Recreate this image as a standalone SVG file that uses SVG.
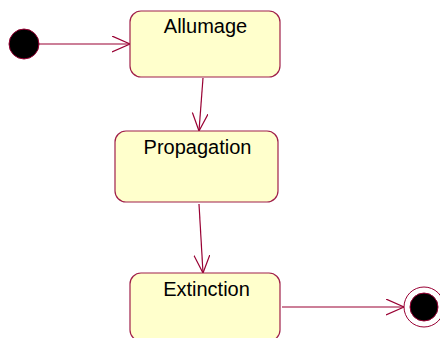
<svg xmlns="http://www.w3.org/2000/svg" width="440" height="338" viewBox="0 0 440 338">
<defs>
<style>
.st{fill:#ffffcc;stroke:#a0204a;stroke-width:1.2}
.lbl{font-family:"Liberation Sans",Arial,sans-serif;font-size:20px;fill:#000;text-anchor:middle}
.cn{stroke:#990033;stroke-width:1.2;fill:none}
</style>
<marker id="ah" markerWidth="22" markerHeight="20" refX="18" refY="8" orient="auto" markerUnits="userSpaceOnUse">
<path d="M0,0 L18,8 L0,16" fill="none" stroke="#990033" stroke-width="1.2"/>
</marker>
</defs>
<rect width="440" height="338" fill="#fff"/>
<g id="connectors">
<line class="cn" x1="39" y1="44" x2="130" y2="44" marker-end="url(#ah)"/>
<line class="cn" x1="203" y1="78" x2="199" y2="131" marker-end="url(#ah)"/>
<line class="cn" x1="199" y1="204" x2="203" y2="273" marker-end="url(#ah)"/>
<line class="cn" x1="282" y1="307" x2="404" y2="307" marker-end="url(#ah)"/>
</g>
<g id="start">
<circle cx="24" cy="44" r="15" fill="#000" stroke="#990033" stroke-width="1"/>
</g>
<g id="allumage">
<rect class="st" x="130" y="11" width="150" height="66" rx="11"/>
<text class="lbl" x="205.5" y="33">Allumage</text>
</g>
<g id="propagation">
<rect class="st" x="115" y="131" width="163" height="71" rx="11"/>
<text class="lbl" x="197.5" y="154">Propagation</text>
</g>
<g id="extinction">
<rect class="st" x="130" y="273" width="150" height="68" rx="11"/>
<text class="lbl" x="206.5" y="296">Extinction</text>
</g>
<g id="end">
<circle cx="424" cy="307" r="20" fill="#fff" stroke="#990033" stroke-width="1"/>
<circle cx="424" cy="307" r="14" fill="#000" stroke="#990033" stroke-width="1"/>
</g>
</svg>
